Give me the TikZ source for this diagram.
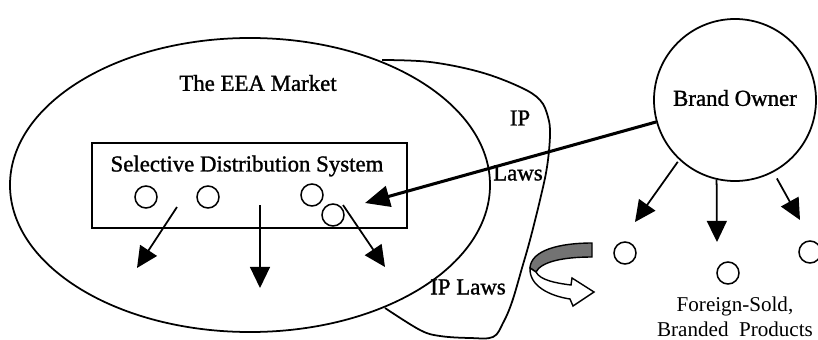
\documentclass[tikz,border=0pt]{standalone}
\usepackage{fontspec}
\setmainfont{Liberation Serif}
\newfontfamily\scanfont{Liberation Serif}[FakeBold=1.2]
\usetikzlibrary{arrows.meta}
\usetikzlibrary{positioning}
\usetikzlibrary{shapes.geometric}

\begin{document}
\begin{tikzpicture}[x=0.03cm,y=-0.03cm,line width=1.5pt,
		font=\scanfont\fontsize{19.5}{23}\selectfont,
		item/.style={draw,circle,inner sep=0pt,minimum size=0.66cm,line width=1.3pt},
		flow/.style={-{Triangle[length=18pt,width=17pt]},line width=1.5pt},
		bigflow/.style={-{Triangle[length=21pt,width=18pt]},line width=2.6pt}]
		\useasboundingbox (0,0) rectangle (818,340);

		\node [draw,ellipse,minimum width=14.4cm,minimum height=8.82cm] (eea) at (250,185) {};
		\node (eealabel) at (258,83) {The EEA Market};

		\draw plot [smooth,tension=0.6] coordinates {(382,60) (430,62) (480,72) (520,87) (540,100) (548,117) (550,135) (547,167) (540,200) (530,240) (522,268) (512,302) (503,323) (493,337) (470,338) (440,336) (420,330) (385,308)};
		\node (ip) at (520,118) {IP};
		\node (laws) at (518,173) {Laws};
		\node (iplaws) at (468,287) {IP Laws};

		\node [draw,rectangle,minimum width=9.45cm,minimum height=2.55cm] (sds) at (249.5,185.5) {};
		\node (sdslabel) at (247,166) {Selective Distribution System};
		\node [item] (s1) at (146,197) {};
		\node [item] (s2) at (208,197) {};
		\node [item] (s3) at (312,195) {};
		\node [item] (s4) at (333,215) {};

		\coordinate (a1) at (177,207);
		\coordinate (b1) at (137,268);
		\coordinate (a2) at (260,205);
		\coordinate (b2) at (260,288);
		\coordinate (a3) at (343,205);
		\coordinate (b3) at (385,267);
		\draw [flow] (a1) -- (b1);
		\draw [flow] (a2) -- (b2);
		\draw [flow] (a3) -- (b3);

		\node [draw,circle,minimum size=4.86cm] (owner) at (735,100) {};
		\node (ownerlabel) at (735,98) {Brand Owner};

		\coordinate (sdstip) at (365,203);
		\draw [bigflow] (owner) -- (sdstip);

		\node [item] (p1) at (625,253) {};
		\node [item] (p2) at (728,273) {};
		\node [item] (p3) at (810,252) {};
		\coordinate (c1) at (635,222);
		\coordinate (c2) at (717,242);
		\coordinate (c3) at (800,220);
		\draw [flow,shorten <=2pt] (owner.-133) -- (c1);
		\draw [flow] (owner.-103) -- (c2);
		\draw [flow,shorten <=6pt] (owner.-62) -- (c3);

		\node [align=center,font=\rmfamily\fontsize{18}{21}\selectfont] (goods) at (735,317) {Foreign-Sold,\\Branded\ \ Products};

		\fill [black!55,draw=black,line width=1.2pt] (592,243) .. controls (560,243) and (531,250) .. (530,268) -- (536,272) .. controls (541,262) and (562,257) .. (592,257) -- cycle;
		\draw [fill=white,line width=1.2pt] (530,268) .. controls (529,286) and (550,296) .. (570,299) -- (573,306) -- (594,292) -- (572,278) -- (571,285) .. controls (555,283) and (540,280) .. (536,272) -- cycle;
	\end{tikzpicture}
\end{document}
